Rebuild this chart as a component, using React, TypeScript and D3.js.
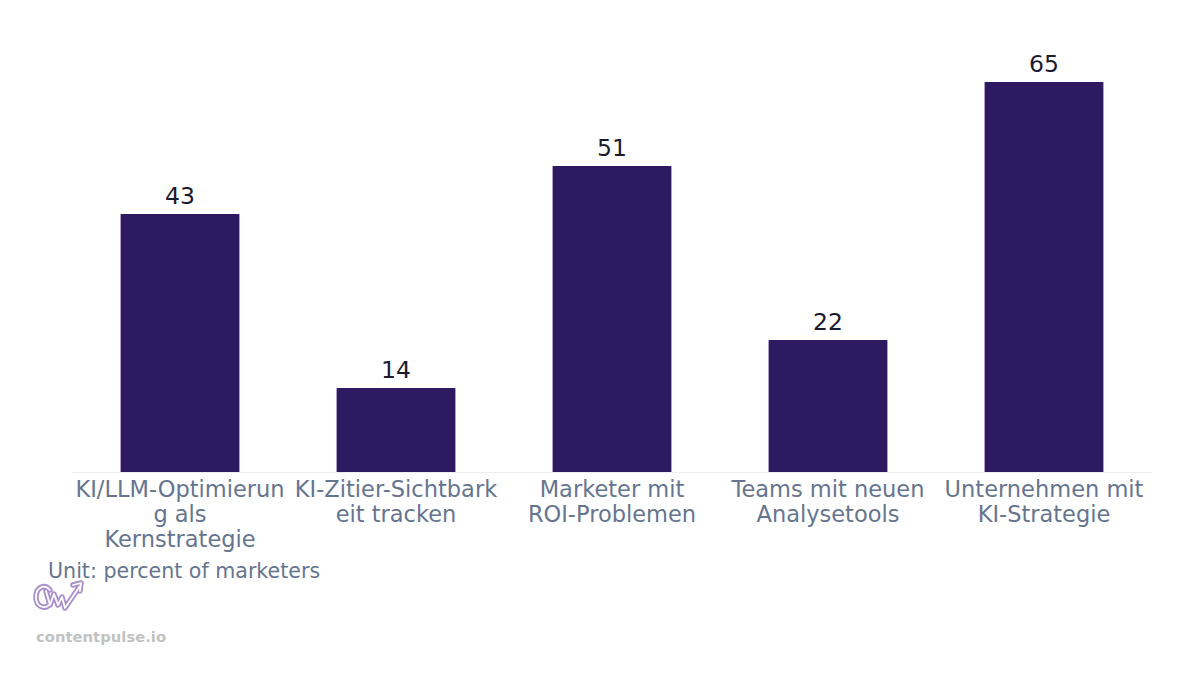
import { useRef, useEffect } from "react";
import * as d3 from "d3";

const categories = [
  "KI/LLM-Optimierung als Kernstrategie",
  "KI-Zitier-Sichtbarkeit tracken",
  "Marketer mit ROI-Problemen",
  "Teams mit neuen Analysetools",
  "Unternehmen mit KI-Strategie",
];
const values = [43, 14, 51, 22, 65];
// wrapped lines as rendered in the original
const tickLines = [
  ["KI/LLM-Optimierun", "g als", "Kernstrategie"],
  ["KI-Zitier-Sichtbark", "eit tracken"],
  ["Marketer mit", "ROI-Problemen"],
  ["Teams mit neuen", "Analysetools"],
  ["Unternehmen mit", "KI-Strategie"],
];

const unitNote = "Unit: percent of marketers";
const brand = "contentpulse.io";

const App = () => {
  const svgRef = useRef<SVGSVGElement | null>(null);
  const width = 1200;
  const height = 675;

  useEffect(() => {
    if (!svgRef.current) return;
    const svg = d3.select(svgRef.current);
    svg.selectAll("*").remove();
    const font = "'DejaVu Sans', sans-serif";

    const x = d3.scaleBand<string>()
      .domain(categories)
      .range([72, 1152])
      .paddingInner(0.45)
      .paddingOuter(0.225);

    const y = d3.scaleLinear().domain([0, 70]).range([472, 52]);

    // baseline
    svg.append("line")
      .attr("x1", 72).attr("x2", 1152)
      .attr("y1", y(0) + 0.5).attr("y2", y(0) + 0.5)
      .attr("stroke", "#eceef3").attr("stroke-width", 1);

    svg.selectAll(".bar")
      .data(values)
      .enter()
      .append("rect")
      .attr("class", "bar")
      .attr("x", (_, i) => x(categories[i]) || 0)
      .attr("width", x.bandwidth())
      .attr("y", d => y(d))
      .attr("height", d => y(0) - y(d))
      .attr("fill", "#2e1a60");

    svg.selectAll(".val")
      .data(values)
      .enter()
      .append("text")
      .attr("class", "val")
      .attr("x", (_, i) => (x(categories[i]) || 0) + x.bandwidth() / 2)
      .attr("y", d => y(d) - 10)
      .attr("text-anchor", "middle")
      .attr("font-family", font)
      .attr("font-size", 23.5)
      .attr("fill", "#1b1b2f")
      .text(d => d);

    const ticks = svg.append("g")
      .attr("font-family", font)
      .attr("font-size", 22.5)
      .attr("fill", "#66758f")
      .attr("text-anchor", "middle");

    tickLines.forEach((lines, i) => {
      const cx = (x(categories[i]) || 0) + x.bandwidth() / 2;
      const t = ticks.append("text").attr("x", cx).attr("y", 497);
      lines.forEach((ln, j) => {
        t.append("tspan")
          .attr("x", cx)
          .attr("dy", j === 0 ? 0 : 25)
          .text(ln);
      });
    });

    svg.append("text")
      .attr("x", 48).attr("y", 578)
      .attr("font-family", font)
      .attr("font-size", 20.6)
      .attr("fill", "#66758f")
      .text(unitNote);

    // logo
    const logo = svg.append("g").attr("fill", "none").attr("stroke-linejoin", "round").attr("stroke-linecap", "round");
    const logoPath = "M50,590 C44,583 36,588 36,597 C36,607 45,610 50,604 M46,591 L50,605 L54,594 L58,605 L62,597 L65,608 L80,586 M73,585 L81,583 L80,591";
    logo.append("path").attr("d", logoPath).attr("stroke", "#ab8fcb").attr("stroke-width", 5.5);
    logo.append("path").attr("d", logoPath).attr("stroke", "#ffffff").attr("stroke-width", 1.8);

    svg.append("text")
      .attr("x", 36).attr("y", 642)
      .attr("font-family", font)
      .attr("font-size", 14.8)
      .attr("font-weight", "bold")
      .attr("fill", "#c2c2c2")
      .text(brand);
  }, []);

  return (
    <svg
      ref={svgRef}
      width={width}
      height={height}
      viewBox={`0 0 ${width} ${height}`}
      style={{ position: "absolute", left: 0, top: 0, background: "#fff" }}
    ></svg>
  );
};

export default App;
